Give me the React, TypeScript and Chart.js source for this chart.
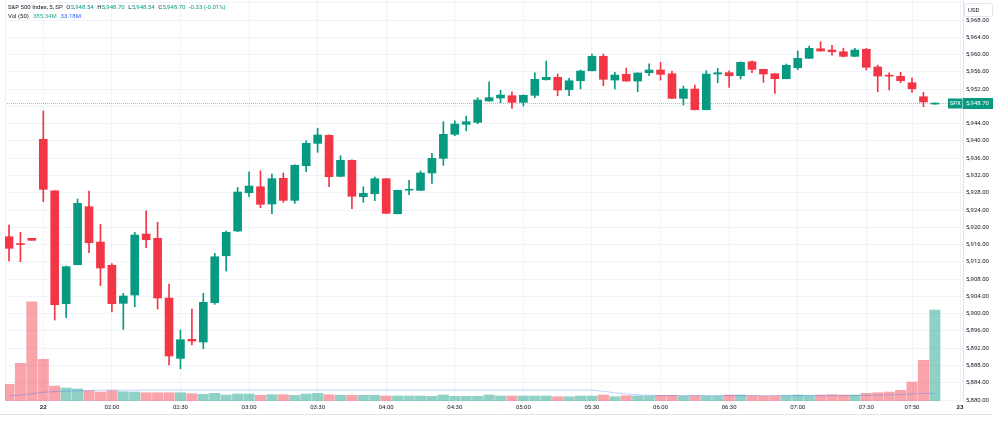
import React, { useEffect, useRef } from 'react';
import { Chart, registerables } from 'chart.js';

Chart.register(...registerables);

// ---- data (5-minute bars, index 0..81) ----
const opens = [
  5917.81, 5916.05, 5917.44, 5940.37, 5928.47, 5902.30, 5911.33, 5924.76, 5916.59, 5911.19,
  5902.39, 5904.31, 5918.44, 5917.44, 5903.62, 5889.65, 5894.05, 5893.43, 5902.53, 5913.41,
  5919.13, 5928.00, 5929.39, 5925.39, 5931.34, 5926.24, 5934.26, 5939.44, 5941.30, 5931.80,
  5935.51, 5927.08, 5927.77, 5931.25, 5923.14, 5928.60, 5928.56, 5932.57, 5935.97, 5941.53,
  5943.84, 5944.31, 5949.24, 5949.94, 5950.47, 5948.94, 5950.56, 5954.17, 5954.73, 5951.86,
  5953.94, 5956.26, 5959.59, 5954.10, 5955.42, 5953.87, 5955.80, 5956.42, 5955.56, 5949.87,
  5952.02, 5947.23, 5955.49, 5955.80, 5955.10, 5958.34, 5956.58, 5955.56, 5954.41, 5956.95,
  5959.13, 5961.35, 5961.05, 5960.66, 5959.59, 5961.21, 5957.12, 5955.10, 5954.96, 5953.48,
  5950.24, 5948.54,
];
const highs = [
  5920.52, 5918.83, 5917.44, 5946.93, 5928.47, 5911.00, 5926.55, 5928.40, 5920.69, 5911.60,
  5904.71, 5918.83, 5923.84, 5921.15, 5906.86, 5896.21, 5901.07, 5904.71, 5913.97, 5919.13,
  5929.25, 5932.87, 5933.10, 5932.33, 5932.57, 5934.50, 5940.05, 5942.92, 5941.40, 5936.57,
  5935.60, 5929.39, 5931.64, 5931.30, 5928.60, 5930.88, 5933.03, 5937.13, 5944.45, 5944.68,
  5945.77, 5950.00, 5953.71, 5951.72, 5951.40, 5950.70, 5955.80, 5958.50, 5955.49, 5954.50,
  5956.42, 5960.13, 5960.13, 5955.89, 5956.88, 5955.80, 5957.88, 5958.20, 5956.10, 5952.72,
  5952.95, 5956.26, 5956.81, 5956.26, 5958.30, 5958.57, 5956.60, 5955.60, 5957.81, 5960.82,
  5961.98, 5962.97, 5962.14, 5961.45, 5961.45, 5961.45, 5957.58, 5955.80, 5955.89, 5954.64,
  5951.26, 5948.70,
];
const lows = [
  5912.19, 5912.03, 5916.98, 5925.92, 5898.52, 5899.06, 5911.33, 5914.11, 5906.47, 5900.38,
  5896.37, 5901.60, 5915.27, 5901.07, 5888.10, 5887.24, 5892.73, 5891.88, 5902.16, 5909.87,
  5919.00, 5927.08, 5924.53, 5923.14, 5925.78, 5925.55, 5932.87, 5937.36, 5929.39, 5931.70,
  5924.30, 5925.78, 5926.15, 5923.20, 5923.10, 5927.54, 5928.50, 5930.18, 5934.35, 5941.20,
  5942.36, 5944.00, 5949.20, 5948.85, 5947.55, 5948.08, 5950.01, 5954.10, 5950.47, 5950.47,
  5952.02, 5956.20, 5952.78, 5952.02, 5953.80, 5951.40, 5955.10, 5954.10, 5949.80, 5948.31,
  5947.20, 5947.20, 5953.48, 5952.41, 5954.34, 5955.80, 5953.57, 5951.02, 5954.40, 5956.49,
  5959.10, 5960.80, 5959.89, 5959.43, 5959.50, 5956.42, 5951.40, 5951.79, 5953.48, 5951.26,
  5947.92, 5948.54,
];
const closes = [
  5915.13, 5916.00, 5916.98, 5928.79, 5902.07, 5910.87, 5925.55, 5916.42, 5910.57, 5902.30,
  5904.08, 5918.21, 5917.12, 5903.62, 5890.19, 5893.96, 5893.66, 5902.62, 5913.18, 5918.83,
  5928.17, 5929.56, 5925.32, 5931.25, 5926.24, 5934.35, 5939.44, 5941.37, 5931.71, 5935.51,
  5927.17, 5927.86, 5931.25, 5923.23, 5928.56, 5928.80, 5932.57, 5935.97, 5941.53, 5943.91,
  5944.45, 5949.47, 5950.01, 5950.63, 5948.94, 5950.56, 5954.27, 5954.73, 5951.79, 5953.94,
  5956.19, 5959.59, 5954.27, 5955.26, 5953.87, 5955.73, 5956.42, 5955.42, 5949.87, 5952.02,
  5947.23, 5955.49, 5955.80, 5955.10, 5958.20, 5956.58, 5955.49, 5954.41, 5957.51, 5959.13,
  5961.45, 5960.82, 5960.66, 5959.59, 5961.05, 5957.05, 5955.03, 5955.00, 5953.94, 5952.09,
  5949.03, 5948.70,
];
// volume in millions
const volumes = [
  70.7, 159.6, 420.4, 176.6, 63.5, 55.0, 50.8, 43.6, 38.1, 43.6,
  39.4, 38.1, 35.1, 35.1, 35.1, 35.1, 30.9, 28.4, 32.6, 25.4,
  29.6, 29.6, 24.1, 26.7, 26.7, 24.1, 29.6, 32.6, 26.7, 24.1,
  24.1, 24.1, 24.1, 21.2, 21.2, 21.2, 21.2, 19.9, 25.4, 19.9,
  19.9, 19.9, 25.4, 21.2, 21.2, 21.2, 21.2, 21.2, 18.2, 18.2,
  21.2, 21.2, 25.4, 18.2, 22.4, 21.2, 21.2, 24.1, 24.1, 21.2,
  22.4, 21.2, 21.2, 25.4, 25.4, 22.4, 21.2, 21.2, 22.4, 25.4,
  22.4, 25.4, 26.7, 25.4, 25.4, 32.6, 35.1, 38.1, 45.3, 80.4,
  172.3, 385.34,
];
// 50-period volume moving average (millions)
const volumeMA = [
  21, 26, 31, 37, 40, 42, 43, 44, 46, 46,
  46, 46, 46, 46, 46, 46, 46, 46, 46, 46,
  46, 46, 46, 46, 46, 46, 46, 46, 46, 46,
  46, 46, 46, 46, 46, 46, 46, 46, 46, 46,
  46, 46, 46, 46, 46, 46, 46, 46, 46, 46,
  46, 46, 41, 35, 30, 26, 24, 23, 23, 23,
  23, 23, 23, 23, 23, 23, 23, 23, 23, 23,
  23, 23, 23, 23, 23, 24, 25, 26, 28, 30,
  32, 33.18,
];
const timeTickPositions = [3, 9, 15, 21, 27, 33, 39, 45, 51, 57, 63, 69, 75, 79, 83.2];
const timeTickLabels = ['22', '02:00', '02:30', '03:00', '03:30', '04:00', '04:30', '05:00', '05:30', '06:00', '06:30', '07:00', '07:30', '07:50', '23'];
const dayLabels = ['22', '23'];
const priceTicks = [5880, 5884, 5888, 5892, 5896, 5900, 5904, 5908, 5912, 5916, 5920, 5924, 5928, 5932, 5936, 5940, 5944, 5948, 5952, 5956, 5960, 5964, 5968, 5972];
const symbolTitle = 'S&P 500 Index, 5, SP';
const symbolTag = 'SPX';
const currencyLabel = 'USD';
const volumeTitle = 'Vol (50)';

const UP = '#089981';
const DOWN = '#F23645';
const VOL_UP = 'rgba(8,153,129,0.45)';
const VOL_DOWN = 'rgba(242,54,69,0.45)';
const TEXT = '#131722';
const GRID = '#f0f3fa';
const FONT = 'Roboto, "Open Sans", sans-serif';

const fmt = (v: number) =>
  v.toLocaleString('en-US', { minimumFractionDigits: 2, maximumFractionDigits: 2 });

export default function App() {
  const ref = useRef<HTMLCanvasElement | null>(null);

  useEffect(() => {
    const canvas = ref.current;
    if (!canvas) return;
    const n = opens.length;
    const idx = opens.map((_, i) => i);
    const up = idx.map((i) => closes[i] >= opens[i]);
    const candleColors = up.map((u) => (u ? UP : DOWN));
    const volColors = up.map((u) => (u ? VOL_UP : VOL_DOWN));
    const last = n - 1;
    const lastPrice = closes[last];

    const overlay = {
      id: 'tvOverlay',
      beforeDraw(chart: any) {
        const { ctx } = chart;
        ctx.save();
        ctx.fillStyle = '#ffffff';
        ctx.fillRect(0, 0, chart.width, chart.height);
        ctx.restore();
      },
      beforeDatasetsDraw(chart: any) {
        const { ctx, chartArea } = chart;
        const y = chart.scales.y.getPixelForValue(lastPrice);
        ctx.save();
        ctx.strokeStyle = 'rgba(8,153,129,0.45)';
        ctx.lineWidth = 1;
        ctx.setLineDash([1, 1]);
        ctx.beginPath();
        ctx.moveTo(chartArea.left, Math.round(y) + 0.5);
        ctx.lineTo(chartArea.right, Math.round(y) + 0.5);
        ctx.stroke();
        ctx.setLineDash([]);
        ctx.strokeStyle = '#eceef2';
        ctx.beginPath();
        ctx.moveTo(chartArea.left + 0.5, 0);
        ctx.lineTo(chartArea.left + 0.5, chartArea.bottom);
        ctx.stroke();
        ctx.restore();
      },
      afterDraw(chart: any) {
        const { ctx, chartArea } = chart;
        ctx.save();
        ctx.textBaseline = 'middle';
        ctx.textAlign = 'left';
        ctx.font = `6px ${FONT}`;
        const drawRun = (parts: [string, string, number][], x: number, y: number) => {
          let cx = x;
          for (const [t, c, gap] of parts) {
            ctx.fillStyle = c;
            ctx.fillText(t, cx, y);
            cx += ctx.measureText(t).width + gap;
          }
        };
        const change = closes[last] - closes[last - 1];
        const pct = (change / closes[last - 1]) * 100;
        const chg = `${change < 0 ? '-' : '+'}${Math.abs(change).toFixed(2)} (${pct < 0 ? '-' : '+'}${Math.abs(pct).toFixed(2)}%)`;
        const valColor = up[last] ? UP : DOWN;
        drawRun(
          [
            [symbolTitle, TEXT, 3.5],
            ['O', TEXT, 0.3],
            [fmt(opens[last]), valColor, 3.5],
            ['H', TEXT, 0.3],
            [fmt(highs[last]), valColor, 3.5],
            ['L', TEXT, 0.3],
            [fmt(lows[last]), valColor, 3.5],
            ['C', TEXT, 0.3],
            [fmt(closes[last]), valColor, 3.5],
            [chg, valColor, 0],
          ],
          8,
          7.5
        );
        drawRun(
          [
            [volumeTitle, TEXT, 4],
            [`${volumes[last].toFixed(2)}M`, '#22ab94', 4],
            [`${volumeMA[last].toFixed(2)}M`, '#2962ff', 0],
          ],
          8,
          16
        );

        const py = Math.round(chart.scales.y.getPixelForValue(lastPrice));
        ctx.fillStyle = UP;
        ctx.fillRect(948, py - 4.5, 14.5, 10);
        ctx.fillRect(chartArea.right, py - 5, 30, 11);
        ctx.fillStyle = '#ffffff';
        ctx.textAlign = 'center';
        ctx.fillText(symbolTag, 955.3, py + 0.5);
        ctx.textAlign = 'left';
        ctx.fillText(fmt(lastPrice), chartArea.right + 3, py + 0.5);

        ctx.fillStyle = '#ffffff';
        ctx.strokeStyle = '#e0e3eb';
        ctx.lineWidth = 1;
        ctx.beginPath();
        ctx.roundRect(964.5, 3.5, 28, 13, 2);
        ctx.fill();
        ctx.stroke();
        ctx.fillStyle = TEXT;
        ctx.fillText(currencyLabel, 968, 10);

        ctx.strokeStyle = '#e0e3eb';
        ctx.beginPath();
        ctx.moveTo(0, 414.5);
        ctx.lineTo(993, 414.5);
        ctx.stroke();
        ctx.restore();
      },
    };

    const chart = new Chart(canvas, {
      data: {
        datasets: [
          {
            type: 'bar',
            label: 'body',
            data: idx.map((i) => ({ x: i, y: [opens[i], closes[i]] })) as any,
            backgroundColor: candleColors,
            borderWidth: 0,
            barThickness: 8,
            minBarLength: 1,
            grouped: false,
            yAxisID: 'y',
          },
          {
            type: 'bar',
            label: 'wick',
            data: idx.map((i) => ({ x: i, y: [lows[i], highs[i]] })) as any,
            backgroundColor: candleColors,
            borderWidth: 0,
            barThickness: 1,
            minBarLength: 1,
            grouped: false,
            yAxisID: 'y',
          },
          {
            type: 'line',
            label: 'vol ma',
            data: idx.map((i) => ({ x: i, y: volumeMA[i] })) as any,
            borderColor: 'rgba(41,98,255,0.3)',
            borderWidth: 1,
            pointRadius: 0,
            yAxisID: 'vol',
          },
          {
            type: 'bar',
            label: 'volume',
            data: idx.map((i) => ({ x: i, y: volumes[i] })) as any,
            backgroundColor: volColors,
            borderWidth: 0,
            barThickness: 10.4,
            grouped: false,
            yAxisID: 'vol',
          },
        ],
      },
      options: {
        animation: false,
        responsive: false,
        maintainAspectRatio: false,
        devicePixelRatio: 1,
        layout: { padding: { left: 5, top: 0, right: 0, bottom: 0 } },
        plugins: { legend: { display: false }, tooltip: { enabled: false } },
        scales: {
          x: {
            type: 'linear',
            position: 'bottom',
            offset: false,
            min: -0.35,
            max: 83.46,
            afterBuildTicks: (s: any) => {
              s.ticks = timeTickPositions.map((v) => ({ value: v }));
            },
            afterFit: (s: any) => {
              s.height = 20;
              s.paddingLeft = 0;
              s.paddingRight = 0;
            },
            ticks: {
              autoSkip: false,
              maxRotation: 0,
              padding: 3,
              color: TEXT,
              font: (c: any) => ({
                size: 6,
                family: FONT,
                weight: dayLabels.includes(timeTickLabels[c.index]) ? 'bold' : 'normal',
              }),
              callback: (_v: any, i: number) => timeTickLabels[i],
            },
            grid: { color: GRID, drawTicks: false, offset: false },
            border: { display: false },
          },
          y: {
            type: 'linear',
            position: 'right',
            min: 5879.77,
            max: 5972.64,
            afterBuildTicks: (s: any) => {
              s.ticks = priceTicks.map((v) => ({ value: v }));
            },
            afterFit: (s: any) => {
              s.width = 37;
              s.paddingTop = 0;
              s.paddingBottom = 0;
            },
            ticks: {
              padding: 3,
              color: TEXT,
              font: { size: 6, family: FONT },
              callback: (v: any) => (v > 5970 ? '' : fmt(Number(v))),
            },
            grid: { color: GRID, drawTicks: false },
            border: { display: true, color: '#e0e3eb' },
          },
          vol: {
            type: 'linear',
            display: false,
            min: 0,
            max: 1698,
          },
        },
      } as any,
      plugins: [overlay],
    });
    return () => chart.destroy();
  }, []);

  return (
    <div style={{ position: 'fixed', left: 0, top: 0, width: 1000, height: 421, background: '#fff' }}>
      <canvas ref={ref} width={1000} height={421} style={{ display: 'block' }} />
    </div>
  );
}
